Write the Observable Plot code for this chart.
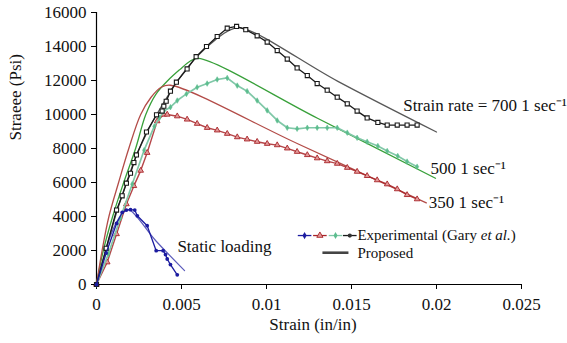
<!DOCTYPE html>
<html><head><meta charset="utf-8">
<script src="https://cdn.jsdelivr.net/npm/d3@7"></script>
<script src="https://cdn.jsdelivr.net/npm/@observablehq/plot@0.6"></script>
<style>body{margin:0;background:#fff} #chart svg{display:block}</style>
</head><body><div id="chart"></div>
<script>
// ---- data (strain in/in, stress psi) ----
const xTicks = [0, 0.005, 0.01, 0.015, 0.02, 0.025];
const yTicks = [0, 2000, 4000, 6000, 8000, 10000, 12000, 14000, 16000];

const exp700 = [[0,0],[0.00057,2130],[0.00118,4380],[0.00151,5215],[0.00176,5960],[0.0020,6545],[0.0022,7170],[0.00235,7620],[0.00294,8970],[0.00353,9980],[0.00386,10200],[0.00396,10490],[0.0041,10780],[0.00435,11370],[0.0047,11900],[0.00533,12680],[0.00586,13400],[0.00647,14000],[0.0071,14590],[0.00769,15080],[0.00824,15180],[0.00878,14990],[0.00945,14630],[0.01004,14260],[0.01063,13760],[0.01122,13260],[0.0118,12740],[0.0124,12290],[0.01298,11820],[0.01357,11430],[0.01416,11020],[0.01475,10630],[0.01533,10200],[0.01592,9800],[0.01655,9535],[0.0171,9380],[0.01769,9380],[0.01827,9380],[0.01886,9380]];
const exp500 = [[0,0],[0.0007,1800],[0.0014,3900],[0.0021,5900],[0.0028,7900],[0.0034,9300],[0.0037,9800],[0.00396,10200],[0.00435,10430],[0.00475,10820],[0.00529,11210],[0.00592,11600],[0.00651,11820],[0.0071,12060],[0.00769,12150],[0.00828,11700],[0.00886,11370],[0.00945,10820],[0.01004,10240],[0.01063,9650],[0.01122,9220],[0.0118,9160],[0.0124,9220],[0.01298,9220],[0.01357,9220],[0.01416,9220],[0.01475,8930],[0.01533,8630],[0.01592,8400],[0.01655,8150],[0.0171,7850],[0.01772,7560],[0.01827,7230],[0.01886,6930]];
const exp350 = [[0,0],[0.00063,1310],[0.00118,2970],[0.00176,4730],[0.0022,5800],[0.0026,6700],[0.00298,7750],[0.00357,9610],[0.00396,10000],[0.00416,10000],[0.00475,9900],[0.00533,9710],[0.00592,9460],[0.00651,9220],[0.0071,9070],[0.00769,8870],[0.00828,8670],[0.00886,8540],[0.00945,8400],[0.01004,8280],[0.01063,8200],[0.01122,8010],[0.0118,7810],[0.0124,7620],[0.01298,7430],[0.01357,7260],[0.01416,7110],[0.01475,6870],[0.01533,6640],[0.01592,6390],[0.01651,6140],[0.0171,5900],[0.01769,5610],[0.01827,5270],[0.01886,5020]];
const expStatic = [[0,0],[0.00057,1850],[0.00118,3590],[0.00151,4240],[0.00176,4380],[0.002,4400],[0.00225,4380],[0.0024,4040],[0.00298,3460],[0.00351,1990],[0.00392,1990],[0.00406,1760],[0.00416,1500],[0.00435,1170],[0.00475,570]];

const prop700 = [[0,0],[0.0006,2200],[0.0012,4300],[0.0018,6100],[0.0024,7700],[0.003,9000],[0.0036,10100],[0.0042,11100],[0.005,12300],[0.006,13500],[0.007,14400],[0.0078,14950],[0.0085,15100],[0.0142,11950],[0.02,8970]];
const prop500 = [[0,0],[0.0004,2000],[0.00095,4000],[0.0016,6000],[0.0023,8000],[0.0029,10000],[0.0035,11200],[0.0042,12000],[0.0049,12640],[0.0055,13130],[0.006,13300],[0.013,9780],[0.01994,6250]];
const prop350 = [[0,0],[0.00033,2000],[0.00073,4000],[0.0013,6000],[0.0019,8000],[0.0026,10000],[0.0032,11000],[0.0038,11600],[0.00435,11720],[0.0119,8250],[0.0194,4800]];
const propStatic = [[0,0],[0.0004,1500],[0.0008,2800],[0.0012,3700],[0.0016,4250],[0.0019,4400],[0.0035,2560],[0.00518,820]];

const labels = [
  {x: 0.01804, y: 10550, text: "Strain rate = 700 1 sec\u207B\u00B9"},
  {x: 0.01965, y: 6800, text: "500 1 sec\u207B\u00B9"},
  {x: 0.01955, y: 4800, text: "350 1 sec\u207B\u00B9"},
  {x: 0.00476, y: 2230, text: "Static loading"}
];
const legendMarkX = [0.01224, 0.01314, 0.01406, 0.0149];
const legendExpY = 2880;
const legendPropY = 1870;
const legendPropX = [0.01329, 0.01482];
const legendTextX = 0.01535;
const legendTexts = ["Experimental (Gary et al.)", "Proposed"];

// ---- styles ----
const C = {
  k: "#1a1a1a", kProp: "#585858",
  r: "#a82428", rFill: "#e29a9a", rProp: "#b34c48",
  g: "#80c8a8", gFill: "#5cbd8e", gProp: "#38a03a",
  b: "#1c1ca0", bProp: "#5a5abb"
};
const P = a => a.map(([x, y]) => ({x, y}));

const marks = [
  Plot.ruleY([0], {stroke: "#000", strokeWidth: 1.2}),
  Plot.ruleX([0], {stroke: "#000", strokeWidth: 1.2}),
  Plot.axisX({ticks: xTicks, tickFormat: d => d === 0 ? "0" : String(+d.toFixed(3)), tickSize: 5, tickPadding: 8, label: null, stroke: "#000"}),
  Plot.axisY({ticks: yTicks, tickFormat: d => String(d), tickSize: 5, tickPadding: 5, label: null, stroke: "#000"}),
  // proposed
  Plot.line(P(prop700), {x: "x", y: "y", stroke: C.kProp, strokeWidth: 1.3, curve: "catmull-rom"}),
  Plot.line(P(prop500), {x: "x", y: "y", stroke: C.gProp, strokeWidth: 1.3, curve: "catmull-rom"}),
  Plot.line(P(prop350), {x: "x", y: "y", stroke: C.rProp, strokeWidth: 1.3, curve: "catmull-rom"}),
  Plot.line(P(propStatic), {x: "x", y: "y", stroke: C.bProp, strokeWidth: 1.2, curve: "catmull-rom"}),
  // experimental
  Plot.line(P(exp350), {x: "x", y: "y", stroke: C.r, strokeWidth: 1.4, strokeOpacity: 0.85}),
  Plot.dot(P(exp350), {x: "x", y: "y", symbol: "triangle", r: 2.1, fill: C.rFill, stroke: C.r, strokeWidth: 0.9}),
  Plot.line(P(exp500), {x: "x", y: "y", stroke: C.g, strokeWidth: 1.7}),
  Plot.dot(P(exp500), {x: "x", y: "y", symbol: "diamond", r: 1.7, fill: C.gFill, stroke: C.gFill, strokeWidth: 0.5}),
  Plot.line(P(exp700), {x: "x", y: "y", stroke: C.k, strokeWidth: 1.3}),
  Plot.dot(P(exp700), {x: "x", y: "y", symbol: "square", r: 2.3, fill: "#fff", stroke: C.k, strokeWidth: 1.1}),
  Plot.line(P(expStatic), {x: "x", y: "y", stroke: C.b, strokeWidth: 1.3}),
  Plot.dot(P(expStatic), {x: "x", y: "y", symbol: "circle", r: 1.9, fill: C.b}),
  // labels
  Plot.text(labels, {x: "x", y: "y", text: "text", textAnchor: "start", fill: "#111"}),
  // legend
  Plot.link(legendMarkX, {x1: d => d - 0.0004, x2: d => d + 0.0004, y1: legendExpY, y2: legendExpY,
    stroke: (d, i) => [C.b, C.r, C.g, C.k][i], strokeWidth: 1.3}),
  Plot.dot([legendMarkX[0]], {x: d => d, y: legendExpY, symbol: "diamond", r: 2.2, fill: C.b}),
  Plot.dot([legendMarkX[1]], {x: d => d, y: legendExpY, symbol: "triangle", r: 2.3, fill: C.rFill, stroke: C.r, strokeWidth: 0.9}),
  Plot.dot([legendMarkX[2]], {x: d => d, y: legendExpY, symbol: "diamond", r: 2.1, fill: C.gFill}),
  Plot.dot([legendMarkX[3]], {x: d => d, y: legendExpY, symbol: "circle", r: 2.1, fill: "#333"}),
  Plot.link([legendPropX], {x1: d => d[0], x2: d => d[1], y1: legendPropY, y2: legendPropY, stroke: "#444", strokeWidth: 2.6}),
  Plot.text(legendTexts, {x: legendTextX, y: (d, i) => i === 0 ? legendExpY : legendPropY, text: d => d, textAnchor: "start", fill: "#111", fontSize: 15}),
  // axis titles
  Plot.text(["Strain (in/in)"], {frameAnchor: "bottom", dy: 45, dx: 4, text: d => d, fill: "#111"}),
  Plot.text(["Straeee (Psi)"], {frameAnchor: "left", rotate: -90, dx: -81, dy: -8, text: d => d, fill: "#111"})
];

const plot = Plot.plot({
  width: 567, height: 343,
  marginLeft: 96, marginRight: 46, marginTop: 12, marginBottom: 59,
  x: {domain: [0, 0.025]},
  y: {domain: [0, 16000]},
  style: {fontFamily: "'Liberation Serif', 'Times New Roman', serif", fontSize: "17px", color: "#111", background: "#fff", overflow: "visible"},
  marks
});
document.getElementById("chart").appendChild(plot);

d3.select(plot).selectAll("text").filter(function(){ return this.textContent === legendTexts[0]; })
  .each(function(){
    const t = d3.select(this); t.text(null);
    t.append("tspan").text("Experimental (Gary ");
    t.append("tspan").attr("font-style", "italic").text("et al.");
    t.append("tspan").text(")");
  });
</script>
</body></html>
